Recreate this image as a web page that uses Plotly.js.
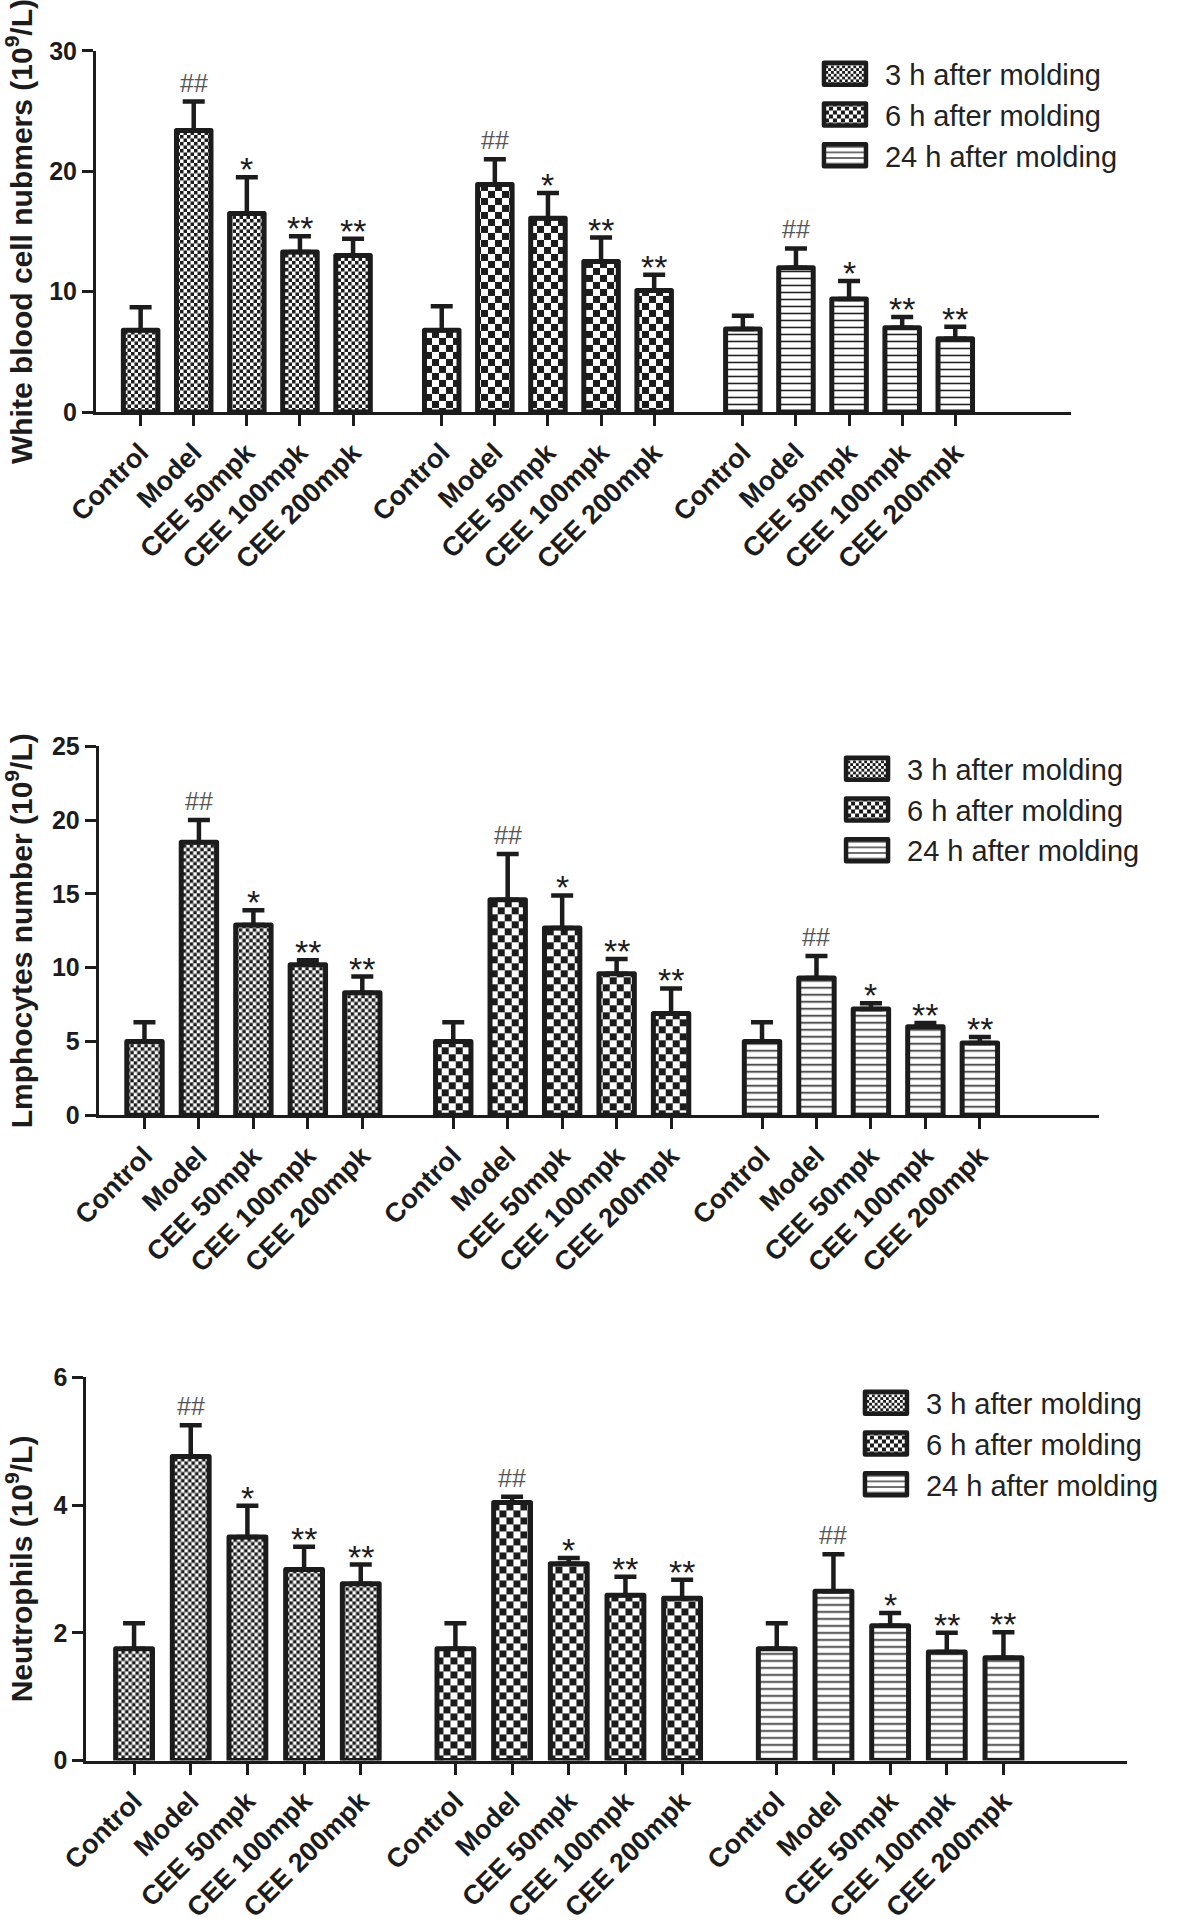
<!DOCTYPE html>
<html>
<head>
<meta charset="utf-8">
<script src="https://cdn.plot.ly/plotly-3.0.1.min.js"></script>
<style>body{margin:0;background:#fff}</style>
</head>
<body>
<div id="chart" style="width:1181px;height:1923px"></div>
<script>
// ---------- data ----------
const categories = ['Control', 'Model', 'CEE 50mpk', 'CEE 100mpk', 'CEE 200mpk'];
const timepoints = ['3 h after molding', '6 h after molding', '24 h after molding'];
const sigLabels = ['', '##', '*', '**', '**'];

// White blood cells (10^9/L)
const wbc3h = [6.8, 23.4, 16.5, 13.3, 13.0];
const wbc3hErr = [1.9, 2.4, 3.0, 1.3, 1.4];
const wbc6h = [6.8, 18.9, 16.1, 12.5, 10.1];
const wbc6hErr = [2.0, 2.1, 2.1, 2.0, 1.3];
const wbc24h = [6.9, 12.0, 9.4, 7.0, 6.1];
const wbc24hErr = [1.1, 1.6, 1.5, 0.9, 1.0];

// Lymphocytes (10^9/L)
const lym3h = [5.0, 18.5, 12.9, 10.2, 8.3];
const lym3hErr = [1.3, 1.5, 1.0, 0.3, 1.1];
const lym6h = [5.0, 14.6, 12.7, 9.6, 6.9];
const lym6hErr = [1.3, 3.1, 2.2, 1.0, 1.7];
const lym24h = [5.0, 9.3, 7.2, 6.0, 4.9];
const lym24hErr = [1.3, 1.5, 0.4, 0.25, 0.4];

// Neutrophils (10^9/L)
const neu3h = [1.75, 4.76, 3.5, 2.99, 2.77];
const neu3hErr = [0.4, 0.49, 0.49, 0.36, 0.3];
const neu6h = [1.75, 4.04, 3.08, 2.59, 2.54];
const neu6hErr = [0.4, 0.09, 0.09, 0.29, 0.29];
const neu24h = [1.75, 2.65, 2.11, 1.7, 1.61];
const neu24hErr = [0.4, 0.58, 0.2, 0.3, 0.4];

const yTitles = ['White blood cell nubmers (10<sup>9</sup>/L)', 'Lmphocytes number (10<sup>9</sup>/L)', 'Neutrophils (10<sup>9</sup>/L)'];
const yRanges = [[0, 30], [0, 25], [0, 6]];
const yDticks = [10, 5, 2];

// ---------- styling / layout ----------
const FONT = 'Liberation Sans, Arial, sans-serif';
const INK = '#1c1c1c';
const groupStride = 5.67;
const panels = [
  {series: [[wbc3h, wbc3hErr], [wbc6h, wbc6hErr], [wbc24h, wbc24hErr]],
   xdom: [0.0813, 0.9069], ydom: [0.7857, 0.9735], legend: {x: 0.6816, y: 0.9748}},
  {series: [[lym3h, lym3hErr], [lym6h, lym6hErr], [lym24h, lym24hErr]],
   xdom: [0.0836, 0.9302], ydom: [0.4200, 0.6119], legend: {x: 0.7003, y: 0.6134}},
  {series: [[neu3h, neu3hErr], [neu6h, neu6hErr], [neu24h, neu24hErr]],
   xdom: [0.0732, 0.9543], ydom: [0.0845, 0.2837], legend: {x: 0.7163, y: 0.2837}}
];
const patterns = [
  {shape: '.', size: 7, solidity: 0.3, fgcolor: INK, bgcolor: 'white', fillmode: 'replace'},
  {shape: '.', size: 14, solidity: 0.3, fgcolor: INK, bgcolor: 'white', fillmode: 'replace'},
  {shape: '-', size: 7, solidity: 0.22, fgcolor: INK, bgcolor: 'white', fillmode: 'replace'}
];

const traces = [];
const annotations = [];
const layout = {
  width: 1181, height: 1923,
  margin: {l: 0, r: 0, t: 0, b: 0},
  paper_bgcolor: 'white', plot_bgcolor: 'white',
  showlegend: true,
  font: {family: FONT, color: INK},
  annotations: annotations
};

const tickvals = [];
const ticktext = [];
timepoints.forEach((tp, t) => categories.forEach((c, i) => { tickvals.push(t * groupStride + i); ticktext.push(c); }));

panels.forEach((p, pi) => {
  const n = pi === 0 ? '' : String(pi + 1);
  const legendName = 'legend' + n;
  p.series.forEach(([vals, errs], t) => {
    const xs = categories.map((c, i) => t * groupStride + i);
    traces.push({
      type: 'bar', name: timepoints[t], x: xs, y: vals,
      xaxis: 'x' + n, yaxis: 'y' + n, legend: legendName,
      legendgroup: 'g' + pi + '_' + t,
      width: 0.65,
      marker: {color: 'white', line: {color: INK, width: 5}, pattern: patterns[t]},
      error_y: {type: 'data', symmetric: false, array: errs, arrayminus: errs.map(() => 0),
                color: INK, thickness: 4.5, width: 11},
      hoverinfo: 'skip'
    });
    sigLabels.forEach((s, i) => {
      if (!s) return;
      const hash = s.startsWith('#');
      annotations.push({
        xref: 'x' + n, yref: 'y' + n, x: xs[i], y: vals[i] + errs[i],
        text: s, showarrow: false, yanchor: 'bottom', xanchor: 'center',
        yshift: hash ? 3 : -13,
        font: {family: FONT, size: hash ? 25 : 34, color: hash ? '#555555' : INK}
      });
    });
  });
  layout['xaxis' + n] = {
    domain: p.xdom, anchor: 'y' + n, range: [-0.84, 17.52],
    tickmode: 'array', tickvals: tickvals, ticktext: ticktext, tickangle: -45,
    tickfont: {family: FONT, size: 27, color: INK, weight: 'bold'},
    showline: true, linewidth: 3, linecolor: INK,
    ticks: 'outside', ticklen: 11, tickwidth: 3, tickcolor: INK,
    showgrid: false, zeroline: false, fixedrange: true
  };
  layout['yaxis' + n] = {
    domain: p.ydom, anchor: 'x' + n, range: yRanges[pi], dtick: yDticks[pi], tick0: 0,
    tickfont: {family: FONT, size: 25, color: INK, weight: 'bold'},
    title: {text: yTitles[pi], font: {family: FONT, size: 30, color: INK, weight: 'bold'}, standoff: 14},
    showline: true, linewidth: 3, linecolor: INK,
    ticks: 'outside', ticklen: 11, tickwidth: 3, tickcolor: INK,
    showgrid: false, zeroline: false, fixedrange: true
  };
  layout[legendName] = {
    x: p.legend.x, y: p.legend.y, xanchor: 'left', yanchor: 'top',
    xref: 'paper', yref: 'paper',
    font: {family: FONT, size: 29, color: '#222222'},
    bgcolor: 'rgba(0,0,0,0)', borderwidth: 0,
    itemwidth: 70, tracegroupgap: 8, traceorder: 'normal'
  };
});

function restyleSvgDetails(gd) {
  // checkerboard texture for the dotted patterns
  gd.querySelectorAll('pattern').forEach(pat => {
    const circ = pat.querySelector('circle');
    if (!circ) return;
    const w = parseFloat(pat.getAttribute('width'));
    const h = parseFloat(pat.getAttribute('height'));
    const fill = circ.getAttribute('fill') || INK;
    circ.remove();
    const ns = 'http://www.w3.org/2000/svg';
    [[0, 0], [w / 2, h / 2]].forEach(([x0, y0]) => {
      const r = document.createElementNS(ns, 'rect');
      r.setAttribute('x', x0); r.setAttribute('y', y0);
      r.setAttribute('width', w / 2); r.setAttribute('height', h / 2);
      r.setAttribute('fill', fill);
      pat.appendChild(r);
    });
  });
  // larger legend swatches
  gd.querySelectorAll('.legendpoints path').forEach(pth => {
    pth.setAttribute('d', 'M21,11H-21V-11H21Z');
    pth.style.strokeWidth = '4.5px';
    pth.style.strokeLinejoin = 'round';
  });
  gd.querySelectorAll('.bars path').forEach(pth => { pth.style.strokeLinejoin = 'round'; });
}

const gd = document.getElementById('chart');
Plotly.newPlot(gd, traces, layout, {staticPlot: true, displayModeBar: false}).then(() => restyleSvgDetails(gd));
</script>
</body>
</html>
